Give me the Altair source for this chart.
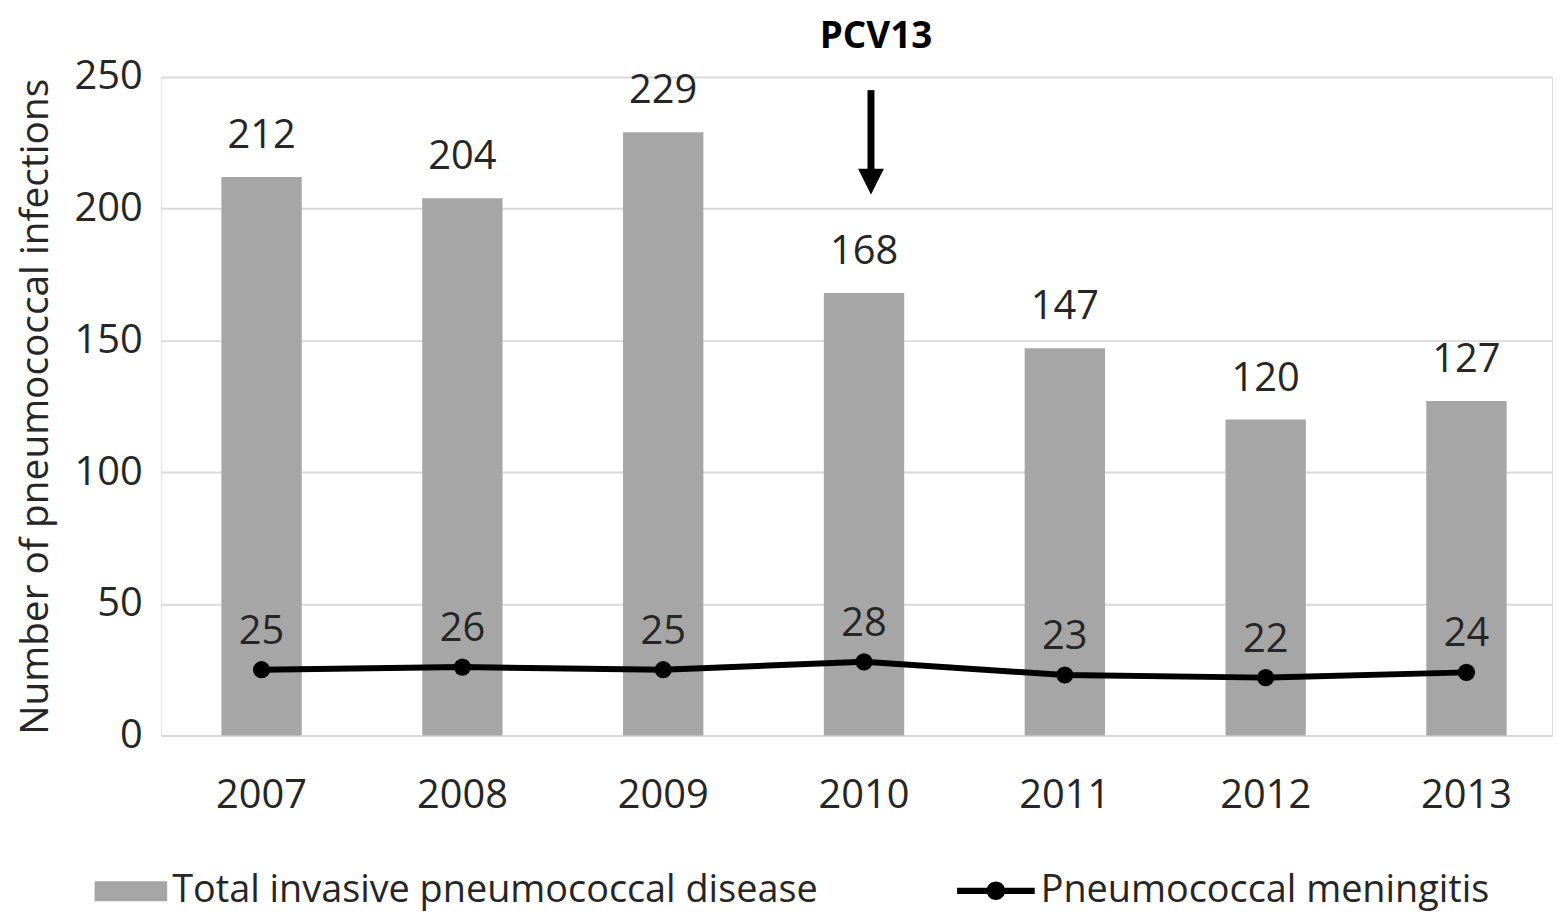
import altair as alt
import pandas as pd

years = ["2007", "2008", "2009", "2010", "2011", "2012", "2013"]
total_ipd = [212, 204, 229, 168, 147, 120, 127]
meningitis = [25, 26, 25, 28, 23, 22, 24]

series_bar = "Total invasive pneumococcal disease"
series_line = "Pneumococcal meningitis"

# annotation (PCV13 arrow) in data units
arrow_year = ["2010"]
arrow_top = [245]
arrow_bottom = [214]
arrow_head = [210.3]
annot_text = ["PCV13"]
annot_y = [261.0]

FONT = "Open Sans"
TXT = "#262626"
FS = 40

bars_df = pd.DataFrame({"year": years, "value": total_ipd, "series": series_bar})
line_df = pd.DataFrame({"year": years, "value": meningitis, "series": series_line})
arrow_df = pd.DataFrame({"year": arrow_year, "top": arrow_top, "bottom": arrow_bottom,
                         "head": arrow_head, "label": annot_text, "ty": annot_y})

x_enc = alt.X("year:N", title=None,
              scale=alt.Scale(paddingInner=0.6, paddingOuter=0.263, align=0.57),
              axis=alt.Axis(labelAngle=0, labelFontSize=FS, labelFont=FONT, labelColor=TXT,
                            ticks=False, domain=False, grid=False, labelPadding=40))
y_scale = alt.Scale(domain=[0, 250], nice=False)

bar_path = "M-1,-0.274L1,-0.274L1,0.274L-1,0.274Z"
line_path = ("M-1,-0.08L1,-0.08L1,0.08L-1,0.08Z "
             "M0.24,0A0.24,0.24 0 1,1 -0.24,0A0.24,0.24 0 1,1 0.24,0Z")

bars = alt.Chart(bars_df).mark_bar(color="#a6a6a6").encode(
    x=x_enc,
    y=alt.Y("value:Q", scale=y_scale, title="Number of  pneumococcal infections",
            axis=alt.Axis(values=[0, 50, 100, 150, 200, 250], ticks=False, domain=False,
                          labelFontSize=FS, labelFont=FONT, labelColor=TXT, labelPadding=19,
                          titleFontSize=39, titleFont=FONT, titleColor=TXT,
                          titleFontWeight="normal", titlePadding=19,
                          gridColor="#d9d9d9", gridWidth=2)),
    color=alt.Color("series:N", scale=alt.Scale(domain=[series_bar], range=["#a6a6a6"]),
                    legend=alt.Legend(orient="none", legendX=-67, legendY=782, title=None,
                                      symbolType=bar_path, symbolSize=5329,
                                      symbolStrokeWidth=0, labelFontSize=38, labelFont=FONT,
                                      labelColor=TXT, labelOffset=5, padding=0,
                                      labelLimit=1000)),
)

bar_labels = alt.Chart(bars_df).mark_text(
    fontSize=FS, font=FONT, color=TXT, baseline="alphabetic", dy=-29
).encode(x=alt.X("year:N"), y=alt.Y("value:Q", scale=y_scale), text="value:Q")

line = alt.Chart(line_df).mark_line(strokeWidth=6).encode(
    x=alt.X("year:N"),
    y=alt.Y("value:Q", scale=y_scale),
    stroke=alt.Stroke("series:N", scale=alt.Scale(domain=[series_line], range=["black"]),
                      legend=alt.Legend(orient="none", legendX=800, legendY=779, title=None,
                                        symbolType=line_path, symbolSize=6084,
                                        symbolFillColor="black", symbolStrokeWidth=0,
                                        labelFontSize=38, labelFont=FONT, labelColor=TXT,
                                        labelOffset=6, padding=0, labelLimit=1000)),
)

points = alt.Chart(line_df).mark_point(filled=True, color="black", size=300, opacity=1).encode(
    x=alt.X("year:N"), y=alt.Y("value:Q", scale=y_scale)
)

line_labels = alt.Chart(line_df).mark_text(
    fontSize=FS, font=FONT, color=TXT, baseline="alphabetic", dy=-26
).encode(x=alt.X("year:N"), y=alt.Y("value:Q", scale=y_scale), text="value:Q")

arrow_shaft = alt.Chart(arrow_df).mark_rule(color="black", strokeWidth=7, xOffset=7).encode(
    x=alt.X("year:N"), y=alt.Y("top:Q", scale=y_scale), y2="bottom:Q"
)
arrow_tip = alt.Chart(arrow_df).mark_point(
    shape="M-1,-1L1,-1L0,1Z", filled=True, color="black", size=676, opacity=1, xOffset=7
).encode(x=alt.X("year:N"), y=alt.Y("head:Q", scale=y_scale))

annot = alt.Chart(arrow_df).mark_text(
    fontSize=37, font=FONT, fontWeight="bold", color="black", baseline="alphabetic", xOffset=12
).encode(x=alt.X("year:N"), y=alt.Y("ty:Q", scale=y_scale), text="label:N")

chart = alt.layer(bars, bar_labels, line, points, line_labels, arrow_shaft, arrow_tip, annot).properties(
    width=1398, height=662,
    autosize=alt.AutoSizeParams(type="none"),
    padding={"left": 154, "top": 67, "right": 8, "bottom": 179},
).configure_view(stroke=None).configure(background="white")

chart.save("out.html", embed_options={"renderer": "svg", "actions": False})
